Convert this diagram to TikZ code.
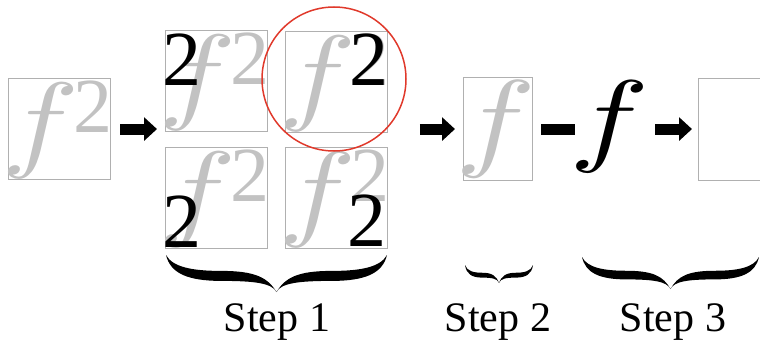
\documentclass[tikz,border=0pt]{standalone}
\usepackage{fontspec}
\setmainfont{Liberation Serif}
\usetikzlibrary{arrows.meta}
\font\fglyphA=cmmi10 at 107pt
\font\fglyphB=cmmi10 at 109pt
\font\fglyphC=cmmi10 at 103pt
\definecolor{boxgray}{HTML}{B0B0B0}
\definecolor{glyphgray}{HTML}{C2C2C2}
\definecolor{circred}{HTML}{E0392B}
\newcommand{\bracefillpath}{(0,0) .. controls (0.02,0.5) and (0.10,0.70) .. (0.25,0.70) .. controls (0.40,0.70) and (0.48,0.76) .. (0.5,1) .. controls (0.52,0.76) and (0.60,0.70) .. (0.75,0.70) .. controls (0.90,0.70) and (0.98,0.5) .. (1,0) .. controls (0.97,0.33) and (0.88,0.43) .. (0.75,0.43) .. controls (0.60,0.43) and (0.54,0.6) .. (0.5,1) .. controls (0.46,0.6) and (0.40,0.43) .. (0.25,0.43) .. controls (0.12,0.43) and (0.03,0.33) .. (0,0) -- cycle}
\begin{document}
\begin{tikzpicture}[x=1pt,y=-1pt,
  sqbox/.style={draw=boxgray, line width=1.1pt, minimum width=102pt, minimum height=101pt, inner sep=0, anchor=north west},
  glyph/.style={inner sep=0, anchor=base west},
  grayf/.style={glyph, text=glyphgray},
  graytwo/.style={glyph, text=glyphgray, font=\fontsize{78}{78}\selectfont},
  blacktwo/.style={glyph, text=black, font=\fontsize{78}{78}\selectfont},
  blackf/.style={glyph, text=black},
  steplabel/.style={inner sep=0, anchor=base, font=\fontsize{42}{50}\selectfont},
  blockarrow/.style={line width=11pt, -{Triangle[length=13pt,width=23pt]}},
  blockbar/.style={line width=11pt},
  ring/.style={circle, draw=circred, line width=1.5pt, minimum size=144pt, inner sep=0},
  fsq/.pic={
    \node[sqbox] (-box) at (0,0) {};
    \node[grayf] (-f) at (-6.7,79.3) {\scalebox{1.22}[1]{\fglyphA f}};
    \node[graytwo] (-two) at (65,54) {2};
  }]
\useasboundingbox (0,0) rectangle (760,340);
% step 0
\pic (b1) at (8,78) {fsq};
% step 1 grid
\pic (tl) at (165,30) {fsq};
\pic (tr) at (285,31) {fsq};
\pic (bl) at (165,147) {fsq};
\pic (br) at (285,147) {fsq};
\node[blacktwo] (tl2) at (162.7,85) {2};
\node[blacktwo] (tr2) at (349.7,85) {2};
\node[blacktwo] (bl2) at (162.7,247) {2};
\node[blacktwo] (br2) at (347.7,246) {2};
\node[ring] (ring) at (334,79) {};
% step 2
\node[sqbox, minimum width=69pt, minimum height=103pt] (s2) at (463,77) {};
\node[grayf] (s2f) at (455.6,156.9) {\scalebox{1.24}[1]{\fglyphB f}};
\node[blackf] (bf) at (577,152.9) {\makebox[70pt][l]{\hspace{-7.4pt}\scalebox{1.3}[1]{\fglyphC f}}};
% step 3
\node[sqbox, minimum width=100pt, minimum height=102pt] (s3) at (698,78) {};
% connectors
\draw[blockarrow, shorten <=9pt, shorten >=8pt] (b1-box.east) -- (b1-box.east -| tl-box.west);
\draw[blockarrow, shorten <=13pt, shorten >=8pt] (s2.west -| ring.east) -- (s2.west);
\draw[blockbar, shorten <=8pt, shorten >=2pt] (s2.east) -- (s2.east -| bf.west);
\draw[blockarrow, shorten <=8pt, shorten >=6pt] (s2.east -| bf.east) -- (s2.east -| s3.west);
% braces
\begin{scope}[shift={(166,255)}, xscale=221, yscale=37]
  \fill \bracefillpath;
\end{scope}
\begin{scope}[shift={(465,265)}, xscale=68, yscale=18]
  \fill \bracefillpath;
\end{scope}
\begin{scope}[shift={(582,257)}, xscale=177, yscale=32]
  \fill \bracefillpath;
\end{scope}
% labels
\node[steplabel] (st1) at (277,331) {Step 1};
\node[steplabel] (st2) at (498,331) {Step 2};
\node[steplabel] (st3) at (673,331) {Step 3};
\end{tikzpicture}
\end{document}
